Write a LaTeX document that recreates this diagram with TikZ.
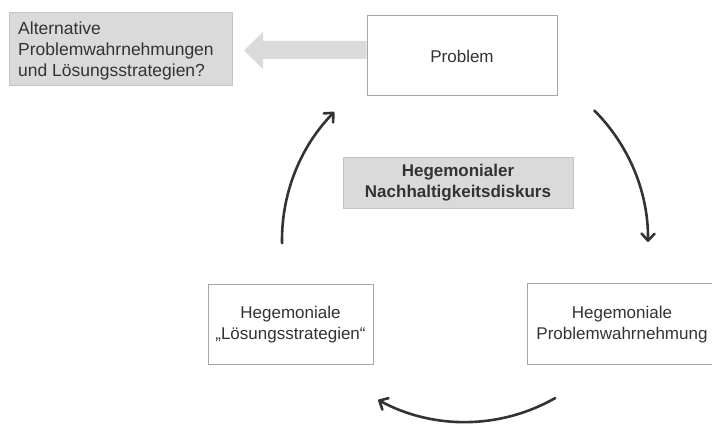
\documentclass[tikz,border=0pt]{standalone}
\usepackage{fontspec}
\setmainfont{Liberation Sans}
\usetikzlibrary{arrows.meta}
\definecolor{boxfill}{HTML}{DADADA}
\definecolor{boxline}{HTML}{A6A6A6}
\definecolor{grayline}{HTML}{C4C4C4}
\definecolor{ink}{HTML}{333333}
\begin{document}
\begin{tikzpicture}[x=1pt,y=1pt,
  every node/.style={font=\fontsize{17}{21}\selectfont, text=ink},
  whitebox/.style={draw=boxline, line width=1pt, fill=white, align=center, inner sep=0pt},
  graybox/.style={draw=grayline, fill=boxfill, line width=0.8pt, inner sep=0pt},
  cyc/.style={draw=ink, line width=2.6pt, line cap=round,
    -{Straight Barb[length=7pt,width=13pt,round]}}
]
\useasboundingbox (0,0) rectangle (712,423);

% boxes
\node[graybox, minimum width=223pt, minimum height=73pt] (alt) at (120.5,374.5) {};
\node[anchor=north west, inner sep=0pt, align=left,
      font=\fontsize{17.5}{20.6}\selectfont] (alttxt) at (18,401)
  {Alternative\\Problemwahrnehmungen\\und Lösungsstrategien?};

\node[whitebox, minimum width=190pt, minimum height=80pt] (problem) at (462,367) {Problem};

\node[graybox, minimum width=230pt, minimum height=51pt, align=center,
      font=\fontsize{17}{21}\selectfont\bfseries] (hege) at (458,240.5)
  {Hegemonialer\\Nachhaltigkeitsdiskurs};

\node[whitebox, minimum width=165pt, minimum height=80pt] (loes) at (290.5,98)
  {Hegemoniale\\„Lösungsstrategien“};

\node[whitebox, minimum width=190pt, minimum height=81pt] (probw) at (622,98.5)
  {Hegemoniale\\Problemwahrnehmung};

% big gray arrow from Problem to the alternative box
\fill[boxfill] (problem.west |- 0,382) -- (263,382) -- (263,391) -- (244,372.5)
  -- (263,354) -- (263,364) -- (problem.west |- 0,364) -- cycle;

% cycle arrows
\coordinate (ctr) at (465,183);
\draw[cyc] ([shift={(181:183)}]ctr) arc[start angle=181, end angle=135.6, radius=183];
\draw[cyc] ([shift={(45:183)}]ctr) arc[start angle=45, end angle=-0.6, radius=183];
\draw[cyc] ([shift={(-60.3:182)}]ctr) arc[start angle=-60.3, end angle=-118.5, radius=182];
\end{tikzpicture}
\end{document}
